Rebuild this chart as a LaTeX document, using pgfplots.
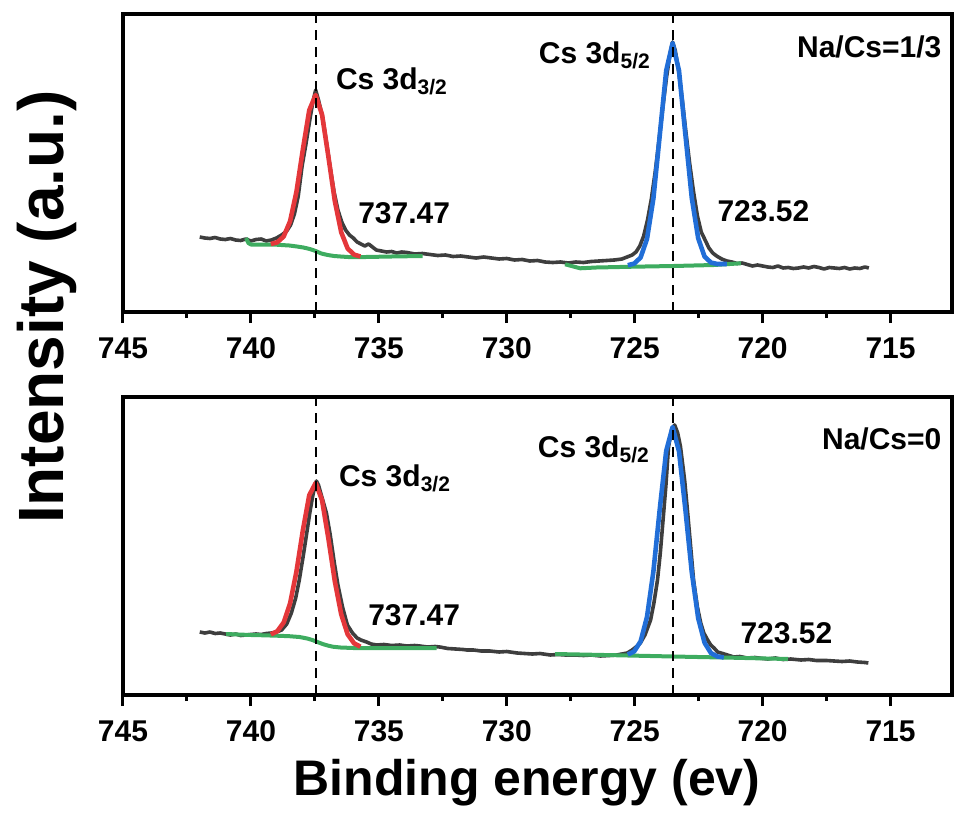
\documentclass[border=0pt]{standalone}
\usepackage{fontspec}
\setmainfont{Liberation Sans}
\usepackage{pgfplots}
\pgfplotsset{compat=1.18}

\definecolor{rawgray}{RGB}{62,62,62}
\definecolor{fitred}{RGB}{228,55,58}
\definecolor{fitblue}{RGB}{33,110,215}
\definecolor{bggreen}{RGB}{62,172,96}

\tikzset{lbl/.style={font=\fontsize{15}{18}\selectfont\bfseries, inner sep=0pt}}

\pgfplotsset{
  panel/.style={
    width=414.5pt, height=149pt, scale only axis,
    x dir=reverse, xmin=712.6, xmax=745, ymin=0, ymax=298,
    xtick={715,720,...,745}, minor x tick num=1, ytick=\empty,
    xtick pos=left, tick align=outside,
    major tick length=5.5pt, minor tick length=3pt,
    tick style={line width=1.5pt, black},
    axis line style={line width=2pt},
    /pgf/number format/assume math mode=true,
    xticklabel style={font=\fontsize{15}{18}\selectfont\bfseries, anchor=base, yshift=-17.5pt},
    clip=false,
  },
  raw/.style={rawgray, line width=1.8pt, line join=round},
  bg/.style={bggreen, line width=2pt, line join=round},
  peak/.style={line width=2.3pt, line join=round},
  mark line/.style={black, line width=1pt, dash pattern=on 5pt off 3.5pt},
}

\begin{document}
\begin{tikzpicture}
\useasboundingbox (-61.5pt,-251pt) rectangle (415.5pt,156pt);

% upper panel: Na/Cs = 1/3
\begin{axis}[panel, at={(0,0)}, anchor=south west]
\addplot[raw] coordinates {
(742.0,75) (741.8,74) (741.6,73.5) (741.4,74.5) (741.2,73) (741.0,72.5) (740.8,73.5)
(740.6,72) (740.4,71.5) (740.2,73) (740.0,71) (739.8,72.5) (739.6,73) (739.4,71)
(739.2,72) (739.0,74) (738.8,77) (738.6,81) (738.45,87) (738.3,98) (738.15,116)
(738.0,146) (737.85,168) (737.7,192) (737.58,210) (737.47,222) (737.36,212) (737.2,195)
(737.05,170) (736.9,144) (736.75,120) (736.6,102) (736.45,90) (736.3,82) (736.15,77)
(736.0,74) (735.85,70) (735.7,68) (735.55,66) (735.4,68) (735.25,65) (735.1,62)
(734.9,61) (734.7,60) (734.5,60.5) (734.3,59) (734.1,60) (733.9,59.5) (733.6,58)
(733.3,58.5) (733.0,57.5) (732.7,56.5) (732.4,57) (732.1,55.5) (731.8,56) (731.5,55)
(731.2,54) (730.9,55) (730.6,54) (730.3,53) (730.0,53.5) (729.7,52) (729.4,52.5)
(729.1,51) (728.8,51.5) (728.5,50) (728.2,49.5) (727.9,50) (727.6,49) (727.3,50)
(727.0,49.5) (726.7,50.5) (726.4,51) (726.1,51.5) (725.8,52) (725.5,53) (725.3,55)
(725.1,57) (724.95,60) (724.8,66) (724.65,76) (724.5,92) (724.35,113) (724.2,140)
(724.05,172) (723.9,205) (723.75,236) (723.62,258) (723.52,270) (723.42,262) (723.3,244)
(723.15,214) (723.0,180) (722.85,148) (722.7,120) (722.55,96) (722.4,80) (722.25,72)
(722.1,64) (721.95,59) (721.8,56) (721.6,53) (721.4,51) (721.2,50) (721.0,48.5)
(720.8,49) (720.6,47.5) (720.4,46) (720.2,47) (720.0,46) (719.8,45) (719.6,44.5)
(719.4,46) (719.2,44) (719.0,44.5) (718.8,43.5) (718.6,44) (718.4,45) (718.2,44)
(718.0,45.5) (717.8,44.5) (717.6,43) (717.4,44.5) (717.2,44) (717.0,43.5) (716.8,44.5)
(716.6,43) (716.4,44) (716.2,43.5) (716.0,45) (715.85,44)
};
\addplot[bg] coordinates {
(740.19,74) (740.1,69) (740.0,67.5) (739.5,67.5) (739.0,67.3) (738.5,66.5) (738.2,65.5)
(737.95,64.5) (737.7,63) (737.47,61) (737.25,58.5) (737.0,57) (736.75,56) (736.5,55.5)
(736.2,55) (735.5,55) (734.5,55.5) (733.29,56)
};
\addplot[bg] coordinates {
(727.72,47.7) (727.13,43.7) (726.5,44.5) (725.05,45.3) (723.48,46) (721.91,47) (720.85,48.7)
};
\addplot[peak, fitred] coordinates {
(739.22,68) (738.97,69.7) (738.72,75.5) (738.47,90.7) (738.22,120.3) (737.97,162.5)
(737.72,201.8) (737.47,217) (737.22,197.3) (736.97,155) (736.72,110.8) (736.47,79.7)
(736.22,63.5) (735.97,57.4) (735.72,55.5)
};
\addplot[peak, fitblue] coordinates {
(725.27,46.8) (725.02,48.4) (724.77,54.5) (724.52,73.1) (724.27,113.6) (724.02,177.2)
(723.77,241.3) (723.52,269) (723.27,241.4) (723.02,177.5) (722.77,114.1) (722.52,73.8)
(722.27,55.4) (722.02,49.4) (721.77,48) (721.4,48)
};
\addplot[mark line] coordinates {(737.47,0) (737.47,298)};
\addplot[mark line] coordinates {(723.52,0) (723.52,298)};
\node[lbl, anchor=base west] at (axis cs:736.69,223) {Cs 3d\textsubscript{3/2}};
\node[lbl, anchor=base west] at (axis cs:735.82,89) {737.47};
\node[lbl, anchor=base west] at (axis cs:728.76,249) {Cs 3d\textsubscript{5/2}};
\node[lbl, anchor=base west] at (axis cs:721.78,91) {723.52};
\node[lbl, anchor=base east] at (axis cs:713.0,255) {Na/Cs=1/3};
\end{axis}

% lower panel: Na/Cs = 0
\begin{axis}[panel, at={(0,-191.5pt)}, anchor=south west]
\addplot[raw] coordinates {
(742.0,63) (741.8,62) (741.6,63) (741.4,61.5) (741.2,62) (741.0,61) (740.8,60)
(740.6,61) (740.4,59.5) (740.2,60) (740.0,60.5) (739.8,61) (739.6,60.5) (739.4,61.5)
(739.2,62) (739.0,63) (738.8,65) (738.6,71) (738.42,82) (738.25,97) (738.11,115)
(737.95,140) (737.8,165) (737.7,182) (737.6,197) (737.52,207) (737.44,214) (737.36,210)
(737.25,200) (737.05,182) (736.9,160) (736.74,132) (736.6,110) (736.42,88) (736.23,70)
(736.03,62) (735.85,57) (735.7,55) (735.48,53) (735.3,51) (735.09,50) (734.8,50.5)
(734.5,49.5) (734.19,50) (733.9,49) (733.6,49.5) (733.4,49) (733.1,48) (732.8,48.5)
(732.62,48) (732.3,46.5) (732.0,46) (731.7,45.5) (731.56,45) (731.3,45) (731.0,44)
(730.66,44) (730.3,43) (730.0,43.5) (729.6,42) (729.3,41.5) (729.0,41) (728.7,41.5)
(728.3,40) (728.0,40.5) (727.7,40) (727.32,40) (727.0,39.5) (726.7,40) (726.34,39)
(726.0,39.5) (725.7,40) (725.5,41) (725.29,42) (725.1,45) (724.95,48) (724.78,52)
(724.6,60) (724.38,75) (724.25,92) (724.11,115) (724.0,142) (723.87,182) (723.78,210)
(723.68,248) (723.56,265) (723.44,270) (723.32,262) (723.21,248) (723.05,215) (722.93,182)
(722.82,150) (722.7,115) (722.55,88) (722.42,72) (722.3,62) (722.15,55) (722.03,50)
(721.9,47) (721.76,43) (721.5,41) (721.13,38) (720.9,38.5) (720.6,37) (720.3,37.5)
(720.0,36.5) (719.8,36) (719.5,37) (719.2,35.5) (718.9,36) (718.5,35) (718.2,35.5)
(717.9,34.5) (717.5,34.5) (717.21,34) (716.9,33.5) (716.6,34) (716.3,33) (716.0,32.5)
(715.87,32)
};
\addplot[bg] coordinates {
(740.97,61) (740.5,60.5) (740.0,60) (739.5,59.7) (739.0,59.3) (738.5,58.8) (738.1,58)
(737.8,56.5) (737.6,55) (737.4,53) (737.2,51) (737.0,49.5) (736.8,48.3) (736.5,47.5)
(736.0,47) (735.5,47) (734.5,47) (733.5,47) (732.74,47)
};
\addplot[bg] coordinates {
(728.11,41) (725.8,39.8) (723.5,38.5) (721.2,37.3) (719.01,36)
};
\addplot[peak, fitred] coordinates {
(739.22,60.6) (738.97,63.7) (738.72,72.5) (738.47,91.6) (738.22,123.6) (737.97,164.6)
(737.72,199.8) (737.47,212) (737.22,194.8) (736.97,156.1) (736.72,113.6) (736.47,80.6)
(736.22,60.7) (735.97,51.7) (735.72,48.3)
};
\addplot[peak, fitblue] coordinates {
(725.27,40.5) (725.02,43.6) (724.77,53.6) (724.52,78.1) (724.27,123.6) (724.02,186.1)
(723.77,244) (723.52,268) (723.27,243.8) (723.02,185.5) (722.77,122.8) (722.52,76.9)
(722.27,52.2) (722.02,41.9) (721.77,38.5) (721.52,37.6)
};
\addplot[mark line] coordinates {(737.47,0) (737.47,298)};
\addplot[mark line] coordinates {(723.52,0) (723.52,298)};
\node[lbl, anchor=base west] at (axis cs:736.57,209) {Cs 3d\textsubscript{3/2}};
\node[lbl, anchor=base west] at (axis cs:735.43,70) {737.47};
\node[lbl, anchor=base west] at (axis cs:728.80,238) {Cs 3d\textsubscript{5/2}};
\node[lbl, anchor=base west] at (axis cs:720.88,52) {723.52};
\node[lbl, anchor=base east] at (axis cs:713.0,246) {Na/Cs=0};
\end{axis}

\node[rotate=90, font=\fontsize{32}{36}\selectfont\bfseries, inner sep=0pt] at (-38pt,2.5pt) {Intensity (a.u.)};
\node[anchor=base, font=\fontsize{25}{30}\selectfont\bfseries, inner sep=0pt] at (202pt,-241.5pt) {Binding energy (ev)};
\end{tikzpicture}
\end{document}
